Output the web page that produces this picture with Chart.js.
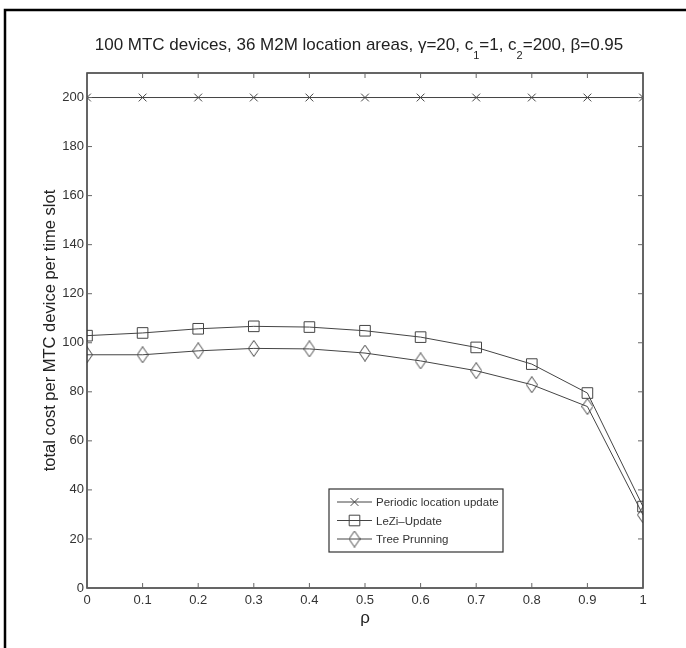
<!DOCTYPE html>
<html>
<head>
<meta charset="utf-8">
<script src="https://cdn.jsdelivr.net/npm/chart.js@4"></script>
<style>
  html, body { margin: 0; padding: 0; background: #fff; }
  #wrap { width: 686px; height: 648px; }
</style>
</head>
<body>
<div id="wrap"><canvas id="chart" width="686" height="648"></canvas></div>
<script>
// data
const rho = [0, 0.1, 0.2, 0.3, 0.4, 0.5, 0.6, 0.7, 0.8, 0.9, 1];
const periodicUpdate = [200, 200, 200, 200, 200, 200, 200, 200, 200, 200, 200];
const leziUpdate = [102.9, 104, 105.7, 106.7, 106.4, 104.9, 102.3, 98.1, 91.3, 79.5, 33.2];
const treePruning = [95.1, 95.1, 96.7, 97.7, 97.5, 95.8, 92.6, 88.6, 82.9, 74, 29.8];
const seriesNames = ['Periodic location update', 'LeZi\u2013Update', 'Tree Prunning'];
const xTickLabels = ['0', '0.1', '0.2', '0.3', '0.4', '0.5', '0.6', '0.7', '0.8', '0.9', '1'];
const yTickLabels = ['0', '20', '40', '60', '80', '100', '120', '140', '160', '180', '200'];
// title pieces, the second item of each pair marks a subscript
const titleParts = [
    ['100 MTC devices, 36 M2M location areas, \u03b3=20, c', false],
    ['1', true],
    ['=1, c', false],
    ['2', true],
    ['=200, \u03b2=0.95', false]
];

const lineColor = '#444';
const font = '"Liberation Sans", Arial, "DejaVu Sans", sans-serif';

// tall MATLAB-like diamond marker
function makeDiamond(w, h) {
    const c = document.createElement('canvas');
    c.width = w; c.height = h;
    const g = c.getContext('2d');
    g.strokeStyle = lineColor;
    g.lineWidth = 1;
    g.beginPath();
    g.moveTo(w / 2, 0.5);
    g.lineTo(w - 0.5, h / 2);
    g.lineTo(w / 2, h - 0.5);
    g.lineTo(0.5, h / 2);
    g.closePath();
    g.stroke();
    return c;
}
const diamond = makeDiamond(12, 17);

function points(ys) {
    return rho.map((x, i) => ({ x: x, y: ys[i] }));
}

// title with real subscripts, frame with inward ticks, page border, legend
const framePlugin = {
    id: 'frame',
    afterDraw(chart) {
        const ctx = chart.ctx;
        const a = chart.chartArea;
        const xs = chart.scales.x, ys = chart.scales.y;
        ctx.save();

        // title
        const mainFont = '17px ' + font, subFont = '11px ' + font;
        let total = 0;
        titleParts.forEach(p => {
            ctx.font = p[1] ? subFont : mainFont;
            total += ctx.measureText(p[0]).width;
        });
        let tx = 359 - total / 2;
        ctx.fillStyle = '#222';
        ctx.textBaseline = 'alphabetic';
        ctx.textAlign = 'left';
        titleParts.forEach(p => {
            ctx.font = p[1] ? subFont : mainFont;
            ctx.fillText(p[0], tx, p[1] ? 59 : 50);
            tx += ctx.measureText(p[0]).width;
        });

        // axes box and inward ticks
        ctx.strokeStyle = '#333';
        ctx.lineWidth = 1.5;
        ctx.strokeRect(a.left, a.top, a.right - a.left, a.bottom - a.top);
        ctx.lineWidth = 1;
        ctx.strokeStyle = '#666';
        ctx.beginPath();
        rho.forEach(v => {
            const px = xs.getPixelForValue(v);
            ctx.moveTo(px, a.bottom); ctx.lineTo(px, a.bottom - 5);
            ctx.moveTo(px, a.top); ctx.lineTo(px, a.top + 5);
        });
        yTickLabels.forEach(t => {
            const py = ys.getPixelForValue(Number(t));
            ctx.moveTo(a.left, py); ctx.lineTo(a.left + 5, py);
            ctx.moveTo(a.right, py); ctx.lineTo(a.right - 5, py);
        });
        ctx.stroke();

        // outer border (top and left only)
        ctx.strokeStyle = '#000';
        ctx.lineWidth = 2.5;
        ctx.beginPath();
        ctx.moveTo(686, 10); ctx.lineTo(5, 10); ctx.lineTo(5, 648);
        ctx.stroke();

        // legend
        const lx = 329, ly = 489, lw = 174, lh = 63;
        ctx.fillStyle = '#fff';
        ctx.fillRect(lx, ly, lw, lh);
        ctx.strokeStyle = '#333';
        ctx.lineWidth = 1.2;
        ctx.strokeRect(lx, ly, lw, lh);
        ctx.textBaseline = 'middle';
        chart.data.datasets.forEach((ds, i) => {
            const ry = ly + 13 + i * 18.5;
            ctx.strokeStyle = lineColor;
            ctx.lineWidth = 1;
            ctx.beginPath();
            ctx.moveTo(lx + 8, ry); ctx.lineTo(lx + 43, ry);
            ctx.stroke();
            ctx.fillStyle = 'rgba(0,0,0,0)';
            Chart.helpers.drawPoint(ctx, {
                pointStyle: ds.pointStyle,
                radius: ds.pointRadius,
                rotation: 0,
                borderWidth: 1
            }, lx + 25.5, ry);
            ctx.fillStyle = '#333';
            ctx.font = '11.5px ' + font;
            ctx.fillText(ds.label, lx + 47, ry + 1);
        });
        ctx.restore();
    }
};

new Chart(document.getElementById('chart'), {
    type: 'line',
    data: {
        datasets: [
            {
                label: seriesNames[0],
                data: points(periodicUpdate),
                borderColor: lineColor,
                borderWidth: 1,
                pointStyle: 'crossRot',
                pointRadius: 5.5,
                pointBorderColor: lineColor,
                pointBackgroundColor: 'transparent',
                pointBorderWidth: 1
            },
            {
                label: seriesNames[1],
                data: points(leziUpdate),
                borderColor: lineColor,
                borderWidth: 1,
                pointStyle: 'rect',
                pointRadius: 7.5,
                pointBorderColor: lineColor,
                pointBackgroundColor: 'transparent',
                pointBorderWidth: 1
            },
            {
                label: seriesNames[2],
                data: points(treePruning),
                borderColor: lineColor,
                borderWidth: 1,
                pointStyle: diamond,
                pointRadius: 8,
                pointBorderColor: lineColor,
                pointBackgroundColor: 'transparent',
                pointBorderWidth: 1
            }
        ]
    },
    options: {
        responsive: false,
        animation: false,
        devicePixelRatio: 1,
        layout: { padding: { left: 0, right: 43, top: 73, bottom: 15 } },
        plugins: {
            legend: { display: false },
            tooltip: { enabled: false },
            title: { display: false }
        },
        scales: {
            x: {
                type: 'linear',
                min: 0,
                max: 1,
                grid: { display: false, drawTicks: false },
                border: { display: false },
                afterBuildTicks: s => { s.ticks = rho.map(v => ({ value: v })); },
                afterFit: s => { s.height = 45; },
                ticks: {
                    color: '#333',
                    padding: 5,
                    maxRotation: 0,
                    font: { family: font, size: 13 },
                    callback: (v, i) => xTickLabels[i]
                },
                title: {
                    display: true,
                    text: '\u03c1',
                    color: '#222',
                    font: { family: font, size: 17 },
                    padding: { top: 0, bottom: 4 }
                }
            },
            y: {
                min: 0,
                max: 210,
                grid: { display: false, drawTicks: false },
                border: { display: false },
                afterBuildTicks: s => { s.ticks = yTickLabels.map(t => ({ value: Number(t) })); },
                afterFit: s => { s.width = 87; },
                ticks: {
                    color: '#333',
                    padding: 3,
                    font: { family: font, size: 13 },
                    callback: (v, i) => yTickLabels[i]
                },
                title: {
                    display: true,
                    text: 'total cost per MTC device per time slot',
                    color: '#222',
                    font: { family: font, size: 16.5 },
                    padding: { top: 41, bottom: 0 }
                }
            }
        }
    },
    plugins: [framePlugin]
});
</script>
</body>
</html>
